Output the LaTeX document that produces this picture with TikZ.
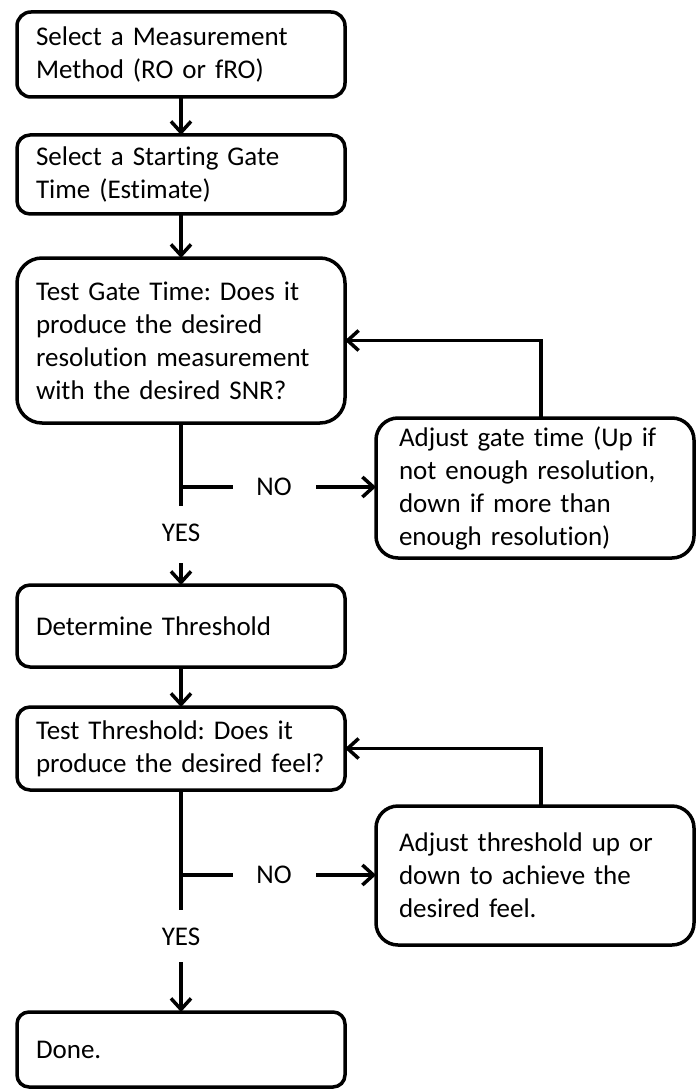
\documentclass[tikz,border=0pt]{standalone}
\usepackage{fontspec}
\setmainfont{Carlito}[Ligatures=NoCommon]
\usetikzlibrary{arrows.meta}
\frenchspacing
\begin{document}
\begin{tikzpicture}[x=1pt,y=-1pt,
  box/.style={draw, line width=3.5pt, rectangle, outer sep=0pt, inner xsep=19pt, inner ysep=0pt,
    text width=290pt, align=left, minimum width=328pt, font=\fontsize{27}{33}\selectfont\frenchspacing},
  sidebox/.style={box, inner xsep=23pt, text width=272pt, minimum width=318pt},
  lbl/.style={inner sep=0pt, font=\fontsize{27}{33}\selectfont},
  conn/.style={line width=3.5pt},
  arr/.style={conn, -{Straight Barb[length=11pt,width=20pt]}},
]
\useasboundingbox (0,0) rectangle (696,1091);

\node[box, minimum height=85pt, rounded corners=14pt] (b1) at (181,54.5) {Select a Measurement\\Method (RO or fRO)};
\node[box, minimum height=79pt, rounded corners=13pt] (b2) at (181,174.5) {Select a Starting Gate\\Time (Estimate)};
\node[box, minimum height=165pt, rounded corners=25pt] (b3) at (181,340.5) {Test Gate Time: Does it\\produce the desired\\resolution measurement\\with the desired SNR?};
\node[sidebox, minimum height=140pt, rounded corners=22pt] (a1) at (535,488) {Adjust gate time (Up if\\not enough resolution,\\down if more than\\enough resolution)};
\node[box, minimum height=82pt, rounded corners=13pt] (b4) at (181,626) {Determine Threshold};
\node[box, minimum height=83pt, rounded corners=13pt] (b5) at (181,748.5) {Test Threshold: Does it\\produce the desired feel?};
\node[sidebox, minimum height=139pt, rounded corners=22pt] (a2) at (535,875.5) {Adjust threshold up or\\down to achieve the\\desired feel.};
\node[box, minimum height=75pt, rounded corners=12pt] (b6) at (181,1049.5) {Done.};

\node[lbl] (no1) at (274,487) {NO};
\node[lbl] (yes1) at (181,533) {YES};
\node[lbl] (no2) at (274,875) {NO};
\node[lbl] (yes2) at (181,937) {YES};

\coordinate (br1) at (181,487);
\coordinate (e1) at (181,506);
\coordinate (s1) at (181,563);
\coordinate (br2) at (181,875);
\coordinate (e2) at (181,910);
\coordinate (s2) at (181,962);
\coordinate (f1) at (541,341);
\coordinate (f2) at (541,749);
\coordinate (nl1) at (233,487);
\coordinate (nr1) at (316,487);
\coordinate (nl2) at (233,875);
\coordinate (nr2) at (316,875);

\draw[arr] (b1) -- (b2);
\draw[arr] (b2) -- (b3);
\draw[conn] (b3.south) -- (e1);
\draw[conn] (br1) -- (nl1);
\draw[arr] (nr1) -- (nr1 -| a1.west);
\draw[arr] (s1) -- (b4.north);
\draw[arr] (a1.north -| f1) |- (b3.east);

\draw[arr] (b4) -- (b5);
\draw[conn] (b5.south) -- (e2);
\draw[conn] (br2) -- (nl2);
\draw[arr] (nr2) -- (nr2 -| a2.west);
\draw[arr] (s2) -- (b6.north);
\draw[arr] (a2.north -| f2) |- (b5.east);
\end{tikzpicture}
\end{document}
